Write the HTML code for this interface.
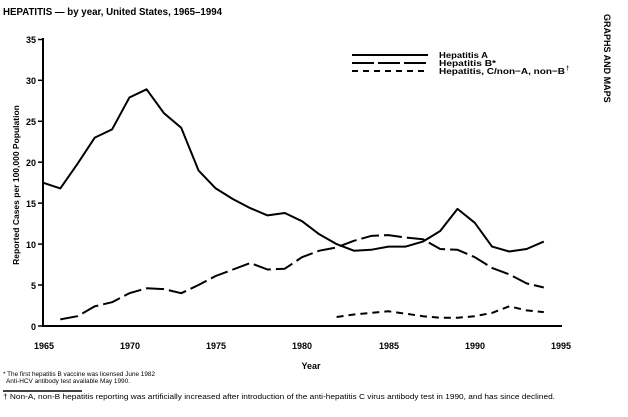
<!DOCTYPE html>
<html><head><style>
body{margin:0;background:#fff;width:628px;height:412px;overflow:hidden;font-family:"Liberation Sans",sans-serif}
</style></head><body>
<svg width="628" height="412" xmlns="http://www.w3.org/2000/svg" font-family="Liberation Sans, sans-serif">
<text x="3" y="15" font-size="10" font-weight="bold" textLength="219" lengthAdjust="spacingAndGlyphs">HEPATITIS — by year, United States, 1965–1994</text>
<text transform="translate(604,14) rotate(90)" font-size="9" font-weight="bold">GRAPHS AND MAPS</text>
<g stroke="#000" stroke-width="2" fill="none">
<line x1="43" y1="38" x2="43" y2="327"/>
<line x1="42" y1="326" x2="562" y2="326"/>
</g>
<g stroke="#000" stroke-width="1.5">
<line x1="38" y1="39.5" x2="43" y2="39.5"/><line x1="38" y1="80.3" x2="43" y2="80.3"/><line x1="38" y1="121.3" x2="43" y2="121.3"/><line x1="38" y1="162.2" x2="43" y2="162.2"/><line x1="38" y1="203.1" x2="43" y2="203.1"/><line x1="38" y1="244.1" x2="43" y2="244.1"/><line x1="38" y1="285" x2="43" y2="285"/><line x1="38" y1="326" x2="43" y2="326"/>
</g>
<g id="xt" stroke="#000" stroke-width="1.5"></g>
<g font-size="9" font-weight="bold" text-anchor="end">
<text x="36" y="43">35</text><text x="36" y="84">30</text><text x="36" y="125">25</text><text x="36" y="166">20</text><text x="36" y="207">15</text><text x="36" y="248">10</text><text x="36" y="289">5</text><text x="36" y="330">0</text>
</g>
<g font-size="9" font-weight="bold" text-anchor="middle">
<text x="44" y="349">1965</text><text x="130" y="349">1970</text><text x="216" y="349">1975</text><text x="302" y="349">1980</text><text x="389" y="349">1985</text><text x="475" y="349">1990</text><text x="561" y="349">1995</text>
<text x="311" y="369">Year</text>
</g>
<text transform="translate(19,185) rotate(-90)" font-size="8.5" font-weight="bold" text-anchor="middle">Reported Cases per 100,000 Population</text>
<g stroke="#000" stroke-width="2" fill="none" stroke-linejoin="round">
<polyline points="43,182.7 60.3,188.4 77.5,163.8 94.8,137.6 112.1,129.4 129.4,97.5 146.6,89.3 163.9,113.1 181.2,127.8 198.5,170.4 215.7,188.4 233,199.1 250.2,208.1 267.5,215.4 284.8,213 302,221.2 319.3,234.3 336.6,244.1 353.9,250.7 371.1,249.8 388.4,246.6 405.7,246.6 422.9,241.6 440.2,231 457.5,208.9 474.8,222.8 492,246.6 509.3,251.5 526.6,249 543.8,241.6"/>
<polyline stroke-dasharray="18,5" points="60.3,319.4 77.5,316.2 94.8,306.3 112.1,302.2 129.4,293.2 146.6,288.3 163.9,289.1 181.2,293.2 198.5,285 215.7,276 233,269.5 250.2,263 267.5,269.5 284.8,268.7 302,257.2 319.3,250.7 336.6,247.4 353.9,240.8 371.1,235.9 388.4,235.1 405.7,237.5 422.9,239.2 440.2,249 457.5,249.8 474.8,257.2 492,267.9 509.3,274.4 526.6,283.4 543.8,287.5"/>
<polyline stroke-dasharray="7,5" points="336.6,317 353.9,314.5 371.1,312.9 388.4,311.3 405.7,313.7 422.9,316.2 440.2,317.8 457.5,317.8 474.8,316.2 492,312.9 509.3,306.3 526.6,310.4 543.8,312.1"/>
<line x1="352" y1="55" x2="428" y2="55"/>
<line x1="352" y1="63" x2="428" y2="63" stroke-dasharray="22,4"/>
<line x1="352" y1="71" x2="428" y2="71" stroke-dasharray="6,5"/>
</g>
<g font-size="8.5" font-weight="bold">
<text x="439" y="58" textLength="49" lengthAdjust="spacingAndGlyphs">Hepatitis A</text>
<text x="439" y="66" textLength="57" lengthAdjust="spacingAndGlyphs">Hepatitis B*</text>
<text x="439" y="74" textLength="126" lengthAdjust="spacingAndGlyphs">Hepatitis, C/non−A, non−B</text><text x="566" y="70" font-size="6">†</text>
</g>
<g font-size="6.3" fill="#000">
<text x="3" y="376" textLength="152" lengthAdjust="spacingAndGlyphs">* The first hepatitis B vaccine was licensed June 1982</text>
<text x="6" y="383" textLength="124" lengthAdjust="spacingAndGlyphs">Anti-HCV antibody test available May 1990.</text>
<text x="3" y="399" font-size="7" textLength="552" lengthAdjust="spacingAndGlyphs">† Non-A, non-B hepatitis reporting was artificially increased after introduction of the anti-hepatitis C virus antibody test in 1990, and has since declined.</text>
</g>
<line x1="3" y1="391" x2="82" y2="391" stroke="#000" stroke-width="1.5"/>
<script>
var g=document.getElementById('xt'),s='';
for(var i=0;i<=30;i++){var x=43+i*17.27;var l=(i%5==0)?6:3;s+='<line x1="'+x+'" y1="326" x2="'+x+'" y2="'+(326+l)+'"/>';}
g.innerHTML=s;
</script>
</svg>
</body></html>
